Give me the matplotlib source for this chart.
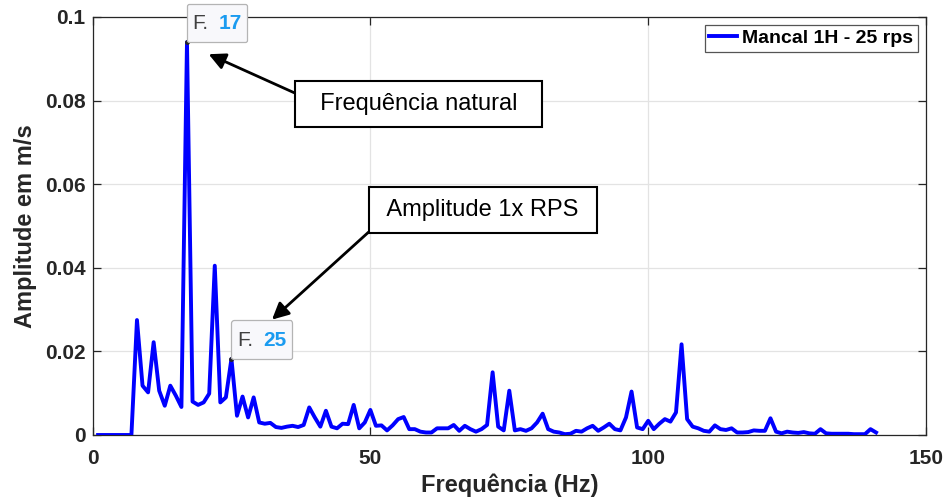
import numpy as np
import matplotlib
matplotlib.use("Agg")
import matplotlib.pyplot as plt
from matplotlib.offsetbox import TextArea, HPacker, VPacker, DrawingArea, AnnotationBbox

plt.rcParams['font.family'] = ['Liberation Sans', 'DejaVu Sans']

# Spectrum amplitude (m/s) at each 1 Hz bin, starting at 1 Hz
amp = [
    0, 0, 0, 0, 0, 0, 0,
    0.0275, 0.0118, 0.0102, 0.0222, 0.0106, 0.0070, 0.0118, 0.0094, 0.0067, 0.0940,
    0.0080, 0.0072, 0.0078, 0.0099, 0.0405, 0.0078, 0.0090, 0.0182, 0.0046, 0.0092,
    0.0042, 0.0090, 0.0030, 0.0027, 0.0029, 0.0019, 0.0017, 0.0020, 0.0022, 0.0019,
    0.0024, 0.0066, 0.0042, 0.0020, 0.0058, 0.0020, 0.0016, 0.0027, 0.0026, 0.0072,
    0.0016, 0.0030, 0.0060, 0.0022, 0.0023, 0.0011, 0.0023, 0.0038, 0.0043, 0.0014,
    0.0014, 0.0008, 0.0006, 0.0006, 0.0016, 0.0016, 0.0016, 0.0024, 0.0010, 0.0022,
    0.0014, 0.0008, 0.0014, 0.0024, 0.0150, 0.0020, 0.0011, 0.0106, 0.0011, 0.0014,
    0.0010, 0.0016, 0.0030, 0.0051, 0.0014, 0.0008, 0.0006, 0.0002, 0.0003, 0.0010,
    0.0008, 0.0016, 0.0022, 0.0010, 0.0018, 0.0027, 0.0014, 0.0011, 0.0042, 0.0104,
    0.0018, 0.0014, 0.0034, 0.0014, 0.0027, 0.0038, 0.0032, 0.0054, 0.0217, 0.0038,
    0.0020, 0.0016, 0.0010, 0.0008, 0.0023, 0.0014, 0.0012, 0.0016, 0.0006, 0.0006,
    0.0007, 0.0011, 0.0010, 0.0010, 0.0040, 0.0008, 0.0004, 0.0008, 0.0006, 0.0005,
    0.0007, 0.0004, 0.0003, 0.0014, 0.0004, 0.0003, 0.0003, 0.0003, 0.0003, 0.0002,
    0.0002, 0.0002, 0.0014, 0.0006,
]
freq = np.arange(1, len(amp) + 1)

series_label = "Mancal 1H - 25 rps"
xticks = [0, 50, 100, 150]
yticks = [0, 0.02, 0.04, 0.06, 0.08, 0.1]
ytick_labels = ["0", "0.02", "0.04", "0.06", "0.08", "0.1"]

# data tips (frequency of the marked bin)
tips = [17, 25]

dark = '#262626'

fig = plt.figure(figsize=(9.44, 5.0), dpi=100)
ax = fig.add_axes([0.098, 0.13, 0.883, 0.836])

ax.plot(freq, amp, color='#0000ff', lw=2.8, label=series_label, zorder=3)

ax.set_xlim(0, 150)
ax.set_ylim(0, 0.1)
ax.set_xticks(xticks)
ax.set_yticks(yticks)
ax.set_yticklabels(ytick_labels)
ax.grid(True, color='#e3e3e3', lw=0.9)
ax.set_axisbelow(True)

ax.tick_params(direction='in', length=6, width=0.9, top=True, right=True,
               labelsize=15, colors=dark)
ax.tick_params(axis='x', pad=10)
ax.tick_params(axis='y', pad=5)
for lab in ax.get_xticklabels() + ax.get_yticklabels():
    lab.set_fontweight('bold')
for sp in ax.spines.values():
    sp.set_color(dark)
    sp.set_linewidth(0.9)

ax.set_xlabel("Frequência (Hz)", fontsize=17, fontweight='bold', color=dark, labelpad=4)
ax.set_ylabel("Amplitude em m/s", fontsize=17, fontweight='bold', color=dark, labelpad=6)

leg = ax.legend(loc='upper right', handlelength=1.4, handletextpad=0.3,
                borderpad=0.25, borderaxespad=0.4, fancybox=False, framealpha=1,
                prop={'weight': 'bold', 'size': 14})
leg.get_frame().set_edgecolor('#555555')
leg.get_frame().set_linewidth(0.9)

# data tips
for f in tips:
    y = amp[f - 1]
    ax.plot([f], [y], marker='o', ms=2.5, color=dark, zorder=4)
    t1 = TextArea("F.", textprops=dict(color='#404040', size=15))
    t2 = TextArea(str(f), textprops=dict(color='#1a9bf0', size=15, weight='bold'))
    row = HPacker(children=[t1, t2], align='baseline', pad=0, sep=7)
    pack = VPacker(children=[DrawingArea(0, 3.5), row, DrawingArea(0, 2.5)],
                   align='left', pad=0, sep=0)
    ab = AnnotationBbox(pack, (f, y), xybox=(4, 4), boxcoords='offset points',
                        box_alignment=(0, 0), frameon=True,
                        bboxprops=dict(boxstyle='round,pad=0.4,rounding_size=0.15',
                                       facecolor='#f8f8fb', edgecolor='#b4b4b4', lw=0.9),
                        zorder=5)
    ax.add_artist(ab)

# text arrows
box = dict(boxstyle='square,pad=0.5', facecolor='white', edgecolor='black', lw=1.5)
ax.annotate("  Frequência natural  ", xy=(20.9, 0.0911), xytext=(58.7, 0.0792),
            fontsize=17, ha='center', va='center', bbox=box,
            arrowprops=dict(arrowstyle='-|>', mutation_scale=25, lw=2, color='black',
                            shrinkA=0, shrinkB=0, relpos=(0, 0.75)), zorder=6)
ax.annotate(" Amplitude 1x RPS ", xy=(32.3, 0.0276), xytext=(70.3, 0.0539),
            fontsize=17, ha='center', va='center', bbox=box,
            arrowprops=dict(arrowstyle='-|>', mutation_scale=25, lw=2, color='black',
                            shrinkA=0, shrinkB=0, relpos=(0, 0)), zorder=6)

fig.savefig("out.png", dpi=100)
